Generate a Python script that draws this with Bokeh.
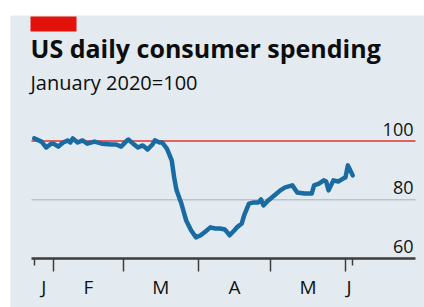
import pandas as pd
from bokeh.plotting import figure
from bokeh.models import Range1d, Label, BoxAnnotation, FixedTicker, DatetimeAxis
from bokeh.core.properties import value
from bokeh.embed import file_html
from bokeh.resources import INLINE

# ---------------- data ----------------
dates = ["2020-01-24", "2020-01-27", "2020-01-29", "2020-01-31", "2020-02-01", "2020-02-03",
         "2020-02-05", "2020-02-07", "2020-02-08", "2020-02-09", "2020-02-11", "2020-02-13",
         "2020-02-15", "2020-02-18", "2020-02-21", "2020-02-25", "2020-02-27", "2020-02-29",
         "2020-03-02", "2020-03-03", "2020-03-05", "2020-03-07", "2020-03-09", "2020-03-11",
         "2020-03-13", "2020-03-14", "2020-03-16", "2020-03-17", "2020-03-19", "2020-03-21",
         "2020-03-22", "2020-03-23", "2020-03-25", "2020-03-27", "2020-03-29", "2020-03-31",
         "2020-04-02", "2020-04-04", "2020-04-06", "2020-04-08", "2020-04-10", "2020-04-12",
         "2020-04-14", "2020-04-16", "2020-04-17", "2020-04-19", "2020-04-20", "2020-04-22",
         "2020-04-24", "2020-04-26", "2020-04-27", "2020-04-28", "2020-04-30", "2020-05-01",
         "2020-05-03", "2020-05-05", "2020-05-07", "2020-05-10", "2020-05-12", "2020-05-15",
         "2020-05-18", "2020-05-19", "2020-05-21", "2020-05-23", "2020-05-24", "2020-05-25",
         "2020-05-27", "2020-05-29", "2020-05-31", "2020-06-01", "2020-06-02", "2020-06-03",
         "2020-06-04"]
spending = [100.9, 99.8, 97.8, 99.1, 99.1, 98.1,
            99.5, 100.2, 99.5, 100.9, 99.5, 100.2,
            99.1, 99.8, 99.1, 98.8, 98.8, 98.1,
            99.8, 100.5, 99.1, 97.8, 98.5, 97.1,
            98.8, 100.2, 99.5, 99.5, 97.4, 93.4,
            87.6, 83.2, 78.7, 72.9, 69.6, 67.2,
            67.9, 69.2, 70.6, 70.2, 70.2, 69.9,
            67.9, 69.6, 70.6, 71.9, 74.7, 78.7,
            79.1, 79.1, 80.1, 78.1, 79.8, 80.4,
            81.8, 83.2, 84.2, 84.9, 82.5, 82.1,
            82.1, 84.9, 85.5, 86.6, 86.2, 83.2,
            86.6, 86.2, 87.2, 87.6, 91.7, 90.0,
            88.3]
month_starts = ["2020-02-01", "2020-03-01", "2020-04-01", "2020-05-01", "2020-06-01"]
month_labels = ["J", "F", "M", "A", "M", "J"]
y_ticks = [100, 80, 60]
y_tick_labels = ["100", "80", "60"]

title_text = "US daily consumer spending"
subtitle_text = "January 2020=100"

# ---------------- styling / geometry ----------------
PANEL = "#e3ebf1"
LINE = "#1b6ba3"
FONT = "Open Sans"
INK = "#121212"
AXIS = "#3d3d3d"

W, H = 424, 307              # figure size (page origin at 0,0)
LEFT_PAD, TOP_PAD = 10, 15   # white strip left/top of the panel
FRAME_W, FRAME_H = W - LEFT_PAD, H - TOP_PAD
PX_PER_DAY = 2.413
PX_PER_UNIT = 2.9375
FEB_PX = 53                  # page x of 1 Feb
BASE_PY = 258                # page y of the value 60 (axis line)

x_at = lambda px: pd.Timestamp(month_starts[0]) + pd.Timedelta(days=(px - FEB_PX) / PX_PER_DAY)
y_at = lambda py: 60 + (BASE_PY - py) / PX_PER_UNIT
ms = lambda t: pd.Timestamp(t).value / 1e6

x0, x1 = x_at(LEFT_PAD), x_at(W)
y0, y1 = y_at(H), y_at(TOP_PAD)
ax_left, ax_right = x_at(31), x_at(415)

x = pd.to_datetime(dates)

p = figure(width=W, height=H, x_axis_type="datetime",
           output_backend="svg", toolbar_location=None,
           x_range=Range1d(x0, x1), y_range=Range1d(y0, y1),
           min_border_left=LEFT_PAD, min_border_right=0, min_border_top=TOP_PAD, min_border_bottom=0)
p.background_fill_color = PANEL
p.border_fill_color = "white"
p.outline_line_color = None
p.xgrid.visible = False
p.ygrid.visible = False
p.yaxis.visible = False

# gridlines (100 red, 80 grey)
p.segment(x0=[ax_left, ax_left], x1=[ax_right, ax_right], y0=[100, 80], y1=[100, 80],
          line_color=["#e0625c", "#b9c3ca"], line_width=[2, 1.5])

# data line
p.line(x, spending, line_color=LINE, line_width=4.5, line_join="round", line_cap="round")

# y labels
p.text(x=[ax_right] * len(y_ticks), y=y_ticks, text=y_tick_labels,
       text_align="right", text_baseline="alphabetic", x_offset=-2, y_offset=-12,
       text_font=value(FONT), text_font_size="18px", text_color=INK)

# x axis: month labels centred between month boundaries, boundaries as ticks
bounds = [x[0]] + [pd.Timestamp(m) for m in month_starts] + [x[-1]]
mids = [ms(bounds[i] + (bounds[i + 1] - bounds[i]) / 2) for i in range(len(bounds) - 1)]
ax = p.xaxis[0]
ax.fixed_location = 60
ax.bounds = (ms(ax_left), ms(ax_right))
ax.ticker = FixedTicker(ticks=mids, minor_ticks=[ms(m) for m in month_starts])
ax.major_label_overrides = {m: lab for m, lab in zip(mids, month_labels)}
ax.axis_line_color = AXIS
ax.axis_line_width = 2.5
ax.major_tick_line_color = None
ax.major_tick_in = 0
ax.major_tick_out = 13
ax.minor_tick_line_color = AXIS
ax.minor_tick_line_width = 1.5
ax.minor_tick_in = 0
ax.minor_tick_out = 13
ax.major_label_standoff = 2
ax.major_label_text_font = FONT
ax.major_label_text_font_size = "19px"
ax.major_label_text_color = INK

# short ticks at the start and end of the data
ax2 = DatetimeAxis(fixed_location=60, ticker=FixedTicker(ticks=[], minor_ticks=[ms(x[0]), ms(x[-1])]),
                   axis_line_color=None, major_tick_line_color=None,
                   minor_tick_line_color=AXIS, minor_tick_line_width=1.5,
                   minor_tick_in=0, minor_tick_out=7)
p.add_layout(ax2, "below")

# red tag, title, subtitle
p.add_layout(BoxAnnotation(left=ms(x_at(30)), right=ms(x_at(76)), top=y_at(16), bottom=y_at(31),
                           fill_color="#e3120b", fill_alpha=1, line_color=None))
p.add_layout(Label(x=ms(x_at(30)), y=y_at(47), text=title_text,
                   text_font=FONT, text_font_style="bold", text_font_size="25px",
                   text_color="#0d0d0d", text_baseline="alphabetic"))
p.add_layout(Label(x=ms(x_at(30)), y=y_at(82), text=subtitle_text,
                   text_font=FONT, text_font_size="20px",
                   text_color="#0d0d0d", text_baseline="alphabetic"))

open("out.html", "w").write(file_html(p, INLINE))
